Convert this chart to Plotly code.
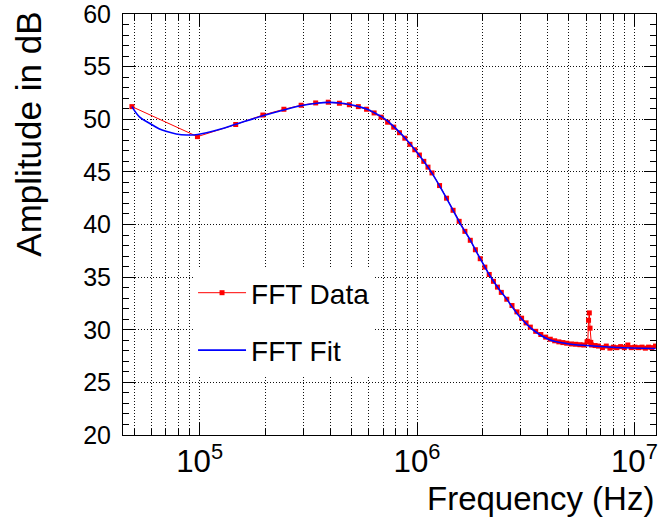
import plotly.graph_objects as go

# ---- data (frequencies in kHz, amplitudes in dB) ----
data_khz = [48.8, 97.7, 146.5, 195.3, 244.1, 293.0, 341.8, 390.6, 439.5, 488.3,
            537.1, 585.9, 634.8, 683.6, 732.4, 781.3, 830.1, 878.9, 927.7, 976.6,
            1025.4, 1074.2, 1123.0, 1171.9, 1269.5, 1367.2, 1464.8, 1562.5, 1660.2, 1757.8,
            1855.5, 1953.1, 2050.8, 2148.4, 2246.1, 2343.8, 2441.4, 2587.9, 2734.4, 2880.9,
            3027.3, 3173.8, 3320.3, 3515.6, 3710.9, 3906.3, 4101.6, 4296.9, 4492.2, 4687.5,
            4882.8, 5127.0, 5371.1, 5615.2, 5859.4, 6054.7, 6103.5, 6152.3, 6201.2, 6250.0,
            6298.8, 6347.7, 6591.8, 6835.9, 7128.9, 7421.9, 7714.8, 8007.8, 8300.8, 8642.6,
            8984.4, 9326.2, 9668.0, 10058.6, 10449.2, 10839.8, 11230.5, 11621.1, 12011.7, 12500.0]
data_db = [51.2, 48.35, 49.5, 50.4, 50.95, 51.33, 51.55, 51.62, 51.52, 51.38,
           51.2, 50.95, 50.6, 50.2, 49.72, 49.25, 48.72, 48.2, 47.62, 47.1,
           46.6, 46.0, 45.45, 44.9, 43.7, 42.5, 41.35, 40.3, 39.35, 38.5,
           37.6, 36.75, 35.95, 35.25, 34.6, 34.05, 33.55, 32.9, 32.3, 31.7,
           31.1, 30.65, 30.25, 29.85, 29.55, 29.3, 29.1, 28.95, 28.85, 28.78,
           28.72, 28.65, 28.62, 28.58, 28.55, 28.85, 28.9, 30.9, 31.6, 30.15,
           28.8, 28.55, 28.5, 28.45, 28.3, 28.45, 28.25, 28.35, 28.3, 28.4,
           28.3, 28.55, 28.3, 28.35, 28.3, 28.35, 28.25, 28.35, 28.3, 28.45]

fit_khz = [48.8, 53, 59, 65, 70, 78, 87, 98, 124, 148, 197, 246, 295, 346, 393, 440,
           490, 540, 594, 638, 692, 742, 802, 891, 991, 1161, 1291, 1460, 1625, 1743,
           1871, 2009, 2154, 2393, 2569, 2660, 2960, 3410, 4070, 4850, 6000, 8240, 12500]
fit_db = [51.2, 50.2, 49.6, 49.1, 48.85, 48.6, 48.5, 48.55, 49.05, 49.55, 50.35, 50.9,
          51.3, 51.52, 51.6, 51.55, 51.4, 51.2, 50.92, 50.6, 50.2, 49.72, 49.08, 48.1,
          46.95, 45.0, 43.4, 41.4, 39.65, 38.65, 37.45, 36.3, 35.2, 33.8, 33.0, 32.55,
          31.25, 30.0, 29.05, 28.7, 28.5, 28.32, 28.22]

y_tick_vals = [20, 25, 30, 35, 40, 45, 50, 55, 60]

x_title = "Frequency (Hz)"
y_title = "Amplitude in dB"

FONT = "Liberation Sans, Arial, Helvetica, sans-serif"
GRID = dict(showgrid=True, gridcolor="#111", griddash="1px,2px", gridwidth=1)

fig = go.Figure()
fig.add_trace(go.Scatter(
    x=[f * 1e3 for f in data_khz], y=data_db, name="FFT Data",
    mode="lines+markers",
    line=dict(color="#ff0000", width=1),
    marker=dict(symbol="square", size=5, color="#ff0000", line=dict(width=0)),
    legendgroup="a",
))
fig.add_trace(go.Scatter(
    x=[f * 1e3 for f in fit_khz], y=fit_db, name="FFT Fit",
    mode="lines",
    line=dict(color="#0000ff", width=1.6, shape="spline", smoothing=1.0),
    legendgroup="b",
))

fig.update_layout(
    width=664, height=523,
    margin=dict(l=123, r=8, t=14, b=88, autoexpand=False),
    paper_bgcolor="white", plot_bgcolor="white",
    font=dict(family=FONT, color="black", size=25),
    showlegend=True,
    legend=dict(
        x=0.1314, y=0.3967, xanchor="left", yanchor="top",
        bgcolor="white", borderwidth=0,
        font=dict(size=28, family=FONT, color="black"),
        traceorder="grouped", tracegroupgap=18, itemwidth=48,
    ),
    xaxis=dict(
        type="log", range=[4.6474, 7.0993], automargin=False,
        dtick=1, exponentformat="power", showexponent="all",
        ticks="inside", ticklen=12, tickcolor="black", tickwidth=1,
        showline=True, linecolor="black", linewidth=1, mirror="allticks",
        zeroline=False, ticklabeloverflow="allow",
        tickfont=dict(size=25, family=FONT),
        minor=dict(dtick="D1", ticks="inside", ticklen=6, tickcolor="black", **GRID),
        **GRID,
    ),
    yaxis=dict(
        range=[20, 60], tickmode="array", tickvals=y_tick_vals,
        automargin=False, ticklabeloverflow="allow",
        ticks="inside", ticklen=12, tickcolor="black", tickwidth=1,
        showline=True, linecolor="black", linewidth=1, mirror="allticks",
        zeroline=False,
        tickfont=dict(size=25, family=FONT),
        ticklabelstandoff=6,
        minor=dict(dtick=1, tick0=20, ticks="inside", ticklen=6, tickcolor="black", showgrid=False),
        **GRID,
    ),
    annotations=[
        dict(text=x_title, xref="paper", yref="paper", x=1.0, y=-0.1520,
             xanchor="right", yanchor="middle", showarrow=False,
             font=dict(size=33, family=FONT, color="black")),
        dict(text=y_title, xref="paper", yref="paper", x=-0.178, y=1.0095,
             xanchor="center", yanchor="top", textangle=-90, showarrow=False,
             font=dict(size=35, family=FONT, color="black")),
    ],
)

fig.write_html("out.html", config={"displayModeBar": False},
               post_script="document.body.style.margin='0';")
